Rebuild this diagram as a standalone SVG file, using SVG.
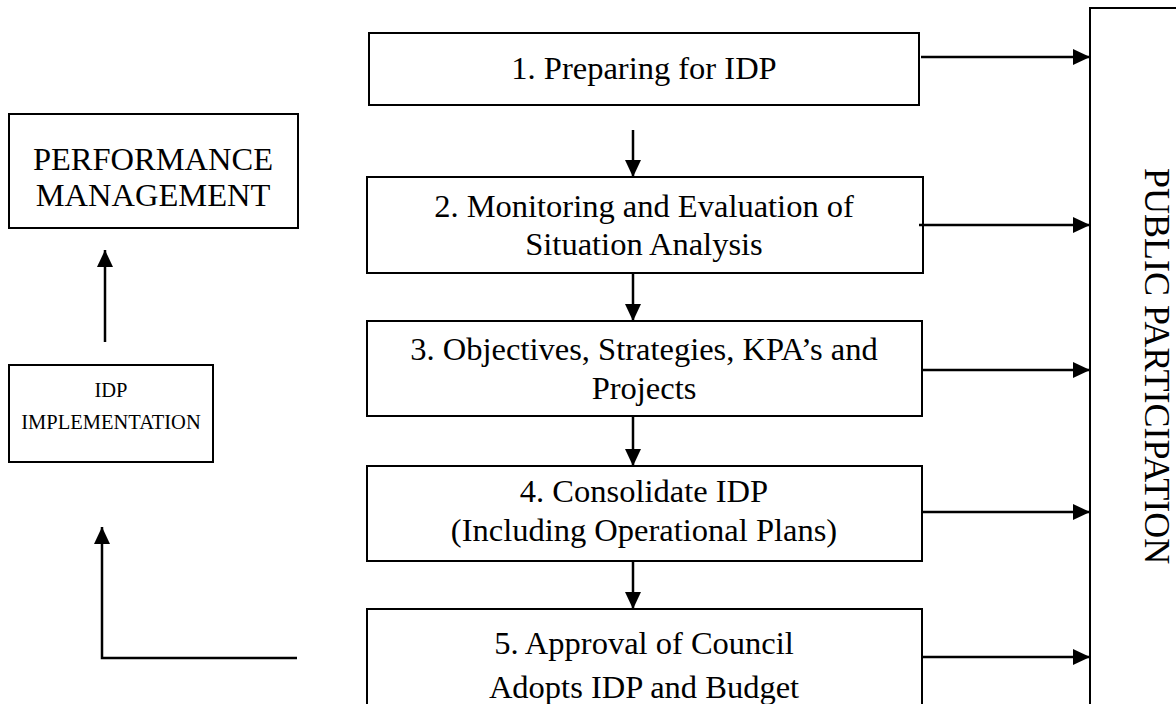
<svg xmlns="http://www.w3.org/2000/svg" width="1176" height="704" viewBox="0 0 1176 704">
<style>
.box{fill:#fff;stroke:#000;stroke-width:2}
.t{font-family:"Liberation Serif","Times New Roman",serif;font-size:32.5px;fill:#000;text-anchor:middle}
.s{font-size:20.5px}
.pp{font-size:36px}
.c{fill:none;stroke:#000;stroke-width:2.5}
</style>
<defs>
<marker id="ah" markerUnits="userSpaceOnUse" markerWidth="18" markerHeight="16" refX="17" refY="8" orient="auto">
<path d="M0,0 L17,8 L0,16 Z" fill="#000"/>
</marker>
</defs>
<g id="public-participation">
<rect class="box" x="1090" y="8" width="120" height="710"/>
<text class="t pp" transform="translate(1145,366) rotate(90)">PUBLIC PARTICIPATION</text>
</g>
<g id="step1">
<rect class="box" x="369" y="33" width="550" height="72"/>
<text class="t" x="644" y="79">1. Preparing for IDP</text>
</g>
<g id="step2">
<rect class="box" x="367" y="177" width="556" height="96"/>
<text class="t" x="644" y="217">2. Monitoring and Evaluation of</text>
<text class="t" x="644" y="255">Situation Analysis</text>
</g>
<g id="step3">
<rect class="box" x="367" y="321" width="555" height="95"/>
<text class="t" x="644" y="360">3. Objectives, Strategies, KPA’s and</text>
<text class="t" x="644" y="399">Projects</text>
</g>
<g id="step4">
<rect class="box" x="367" y="466" width="555" height="95"/>
<text class="t" x="644" y="502">4. Consolidate IDP</text>
<text class="t" x="644" y="541">(Including Operational Plans)</text>
</g>
<g id="step5">
<rect class="box" x="367" y="609" width="555" height="110"/>
<text class="t" x="644" y="654">5. Approval of Council</text>
<text class="t" x="644" y="698">Adopts IDP and Budget</text>
</g>
<g id="performance-management">
<rect class="box" x="9" y="114" width="289" height="114"/>
<text class="t" x="153" y="170">PERFORMANCE</text>
<text class="t" x="153" y="206">MANAGEMENT</text>
</g>
<g id="idp-implementation">
<rect class="box" x="9" y="365" width="204" height="97"/>
<text class="t s" x="111" y="397">IDP</text>
<text class="t s" x="111" y="429">IMPLEMENTATION</text>
</g>
<g id="connectors">
<line class="c" x1="633" y1="130" x2="633" y2="177" marker-end="url(#ah)"/>
<line class="c" x1="633" y1="273" x2="633" y2="321" marker-end="url(#ah)"/>
<line class="c" x1="633" y1="416" x2="633" y2="466" marker-end="url(#ah)"/>
<line class="c" x1="633" y1="561" x2="633" y2="609" marker-end="url(#ah)"/>
<line class="c" x1="921" y1="57" x2="1090" y2="57" marker-end="url(#ah)"/>
<line class="c" x1="919" y1="225" x2="1090" y2="225" marker-end="url(#ah)"/>
<line class="c" x1="922" y1="370" x2="1090" y2="370" marker-end="url(#ah)"/>
<line class="c" x1="922" y1="512" x2="1090" y2="512" marker-end="url(#ah)"/>
<line class="c" x1="922" y1="657" x2="1090" y2="657" marker-end="url(#ah)"/>
<line class="c" x1="105" y1="342" x2="105" y2="250" marker-end="url(#ah)"/>
<polyline class="c" points="297,658 102,658 102,527" marker-end="url(#ah)"/>
</g>
</svg>
